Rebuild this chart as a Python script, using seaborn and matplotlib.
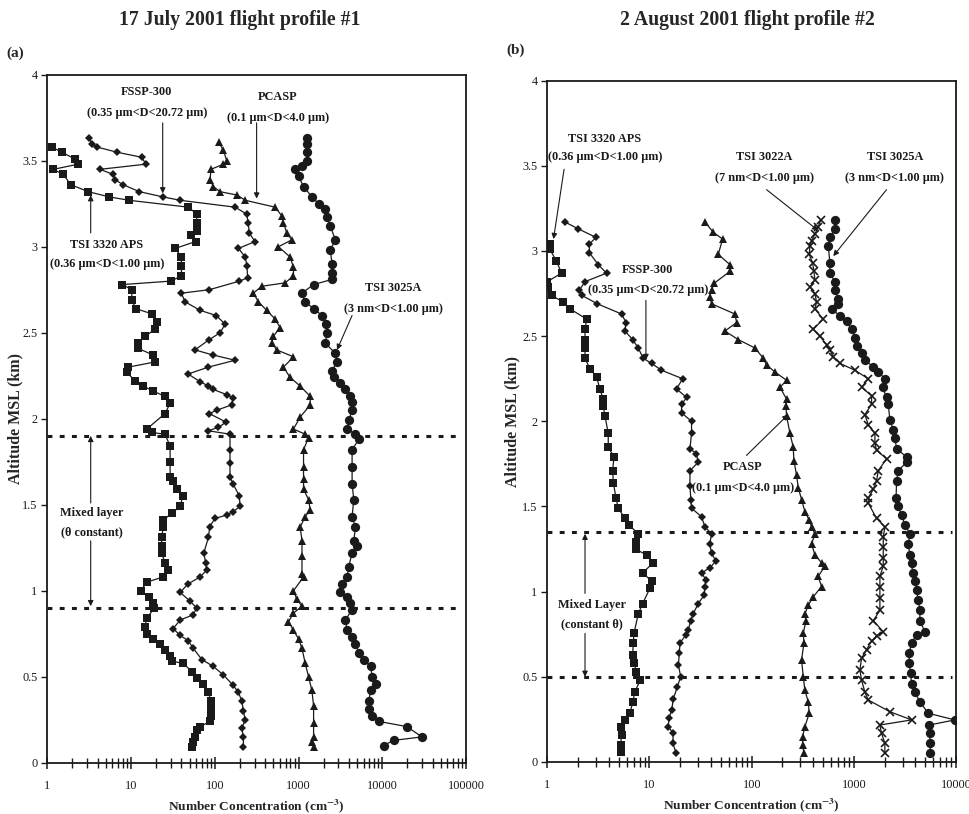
import numpy as np
import pandas as pd
import matplotlib
matplotlib.use("Agg")
import matplotlib.pyplot as plt
import seaborn as sns

# ---------------- Panel (a): 17 July 2001 ----------------
a_aps_x = [1.13, 1.48, 2.14, 2.35, 1.18, 1.55, 1.92, 3.09, 5.46, 9.46, 48.4, 61, 61, 61, 52, 59, 33.6, 40, 40, 40, 29.8,
           7.9, 10.2, 10.2, 11.4, 17.7, 20.3, 19.5, 14.7, 12.2, 12.0, 18.5, 19.3, 9.3, 8.9, 11.2, 14.0, 18.5, 25.5,
           29.3, 25.5, 15.4, 17.6, 25.5, 29.3, 29.3, 29.3, 31.9, 35.2, 41.5, 38.6, 30.5, 24.3, 24.3, 23.2, 23.2, 23.2,
           25.5, 28.0, 24.3, 15.4, 13.1, 16.4, 18.5, 19.0, 15.4, 14.7, 15.4, 18.5, 22.2, 25.5, 29.3, 30.5, 42.2, 53,
           60.7, 73, 84, 89.6, 91, 89.6, 87.6, 66.8, 60.7, 58, 54.6, 54]
a_aps_y = [3.58, 3.55, 3.51, 3.48, 3.45, 3.42, 3.36, 3.32, 3.29, 3.27, 3.23, 3.19, 3.14, 3.09, 3.07, 3.03, 2.99, 2.94, 2.89, 2.83, 2.80,
           2.78, 2.75, 2.69, 2.64, 2.61, 2.56, 2.52, 2.48, 2.44, 2.41, 2.37, 2.33, 2.30, 2.27, 2.22, 2.19, 2.16, 2.13,
           2.09, 2.03, 1.94, 1.92, 1.91, 1.84, 1.75, 1.66, 1.64, 1.59, 1.55, 1.49, 1.45, 1.41, 1.37, 1.31, 1.26, 1.22,
           1.16, 1.12, 1.08, 1.05, 1.00, 0.965, 0.93, 0.90, 0.84, 0.79, 0.75, 0.72, 0.69, 0.655, 0.62, 0.59, 0.578, 0.53,
           0.49, 0.46, 0.41, 0.36, 0.31, 0.27, 0.24, 0.21, 0.19, 0.15, 0.12, 0.093]

a_fssp_x = [3.18, 3.39, 3.89, 6.74, 13.4, 15.1, 4.26, 6.15, 6.4, 8.1, 12.6, 23.9, 38.5, 175, 240, 251, 258, 302, 192, 231,
            242, 247, 197, 86, 40, 44, 67, 104, 133, 116, 86, 58, 96, 175, 84, 48, 67, 84, 96, 139, 166,
            159, 106, 86, 137, 110, 84, 152, 152, 152, 152, 166, 197, 200, 166, 139, 100, 87, 84, 74, 78, 80, 67,
            48, 38.6, 50.6, 60.7, 55.4, 38.6, 31.9, 38.6, 48, 55.4, 70, 96, 127, 166, 191, 210, 220, 231, 210, 220, 220]
a_fssp_y = [3.63, 3.60, 3.58, 3.55, 3.52, 3.48, 3.45, 3.42, 3.39, 3.36, 3.32, 3.29, 3.27, 3.23, 3.19, 3.14, 3.08, 3.03, 2.99, 2.94,
            2.89, 2.82, 2.80, 2.75, 2.73, 2.68, 2.63, 2.60, 2.55, 2.50, 2.46, 2.40, 2.37, 2.34, 2.30, 2.26, 2.215, 2.19, 2.17, 2.14, 2.12,
            2.08, 2.05, 2.03, 1.98, 1.95, 1.93, 1.91, 1.82, 1.74, 1.66, 1.62, 1.55, 1.49, 1.46, 1.44, 1.42, 1.37, 1.31, 1.22, 1.16, 1.12, 1.08,
            1.04, 0.99, 0.94, 0.90, 0.86, 0.83, 0.78, 0.74, 0.71, 0.665, 0.60, 0.56, 0.51, 0.45, 0.41, 0.36, 0.30, 0.25, 0.20, 0.15, 0.093]

a_pcasp_x = [111, 127, 139, 127, 90, 88, 96, 116, 186, 231, 525, 630, 661, 724, 832, 576, 794, 871, 871, 692, 363, 289,
             332, 417, 525, 603, 501, 479, 550, 871, 661, 794, 1047, 1380,
             1380, 1047, 871, 1200, 1318, 1148, 1148, 1148, 1148, 1318, 1380, 1200, 1047, 1100, 1100, 1100, 1148,
             871, 955, 1100, 871, 759, 871, 1000, 1100, 1200, 1318, 1445, 1514, 1514, 1514, 1445, 1514]
a_pcasp_y = [3.61, 3.56, 3.50, 3.48, 3.45, 3.39, 3.35, 3.32, 3.30, 3.27, 3.23, 3.18, 3.14, 3.08, 3.04, 3.00, 2.94, 2.88, 2.83, 2.79, 2.77, 2.73,
             2.68, 2.63, 2.58, 2.53, 2.48, 2.44, 2.40, 2.36, 2.30, 2.24, 2.19, 2.13,
             2.08, 2.01, 1.94, 1.91, 1.89, 1.82, 1.72, 1.65, 1.59, 1.53, 1.47, 1.43, 1.37, 1.29, 1.20, 1.10, 1.08,
             1.00, 0.95, 0.91, 0.87, 0.82, 0.77, 0.72, 0.665, 0.58, 0.50, 0.42, 0.33, 0.23, 0.15, 0.12, 0.093]

a_cpc_x = [1259, 1259, 1259, 1259, 1096, 912, 1000, 1148, 1445, 1738, 2089, 2188, 2399, 2754, 2399, 2512, 2512, 2512,
           1514, 1096, 1202, 1514, 1905, 2138, 2188, 2089, 2754, 2884, 2512, 2630, 3162, 3631, 4169,
           4365, 4365, 3981, 3802, 4786, 5248, 4365, 4365, 4365, 4571, 4365, 4786, 4571, 5012, 4365, 3981, 3802,
           3311, 3162, 3802, 4169, 4365, 3631, 3802, 4365, 4786, 5248, 6026, 7244, 7586, 8318, 7244, 6918, 6918,
           7586, 9120, 19700, 29800, 13650, 10380]
a_cpc_y = [3.63, 3.60, 3.55, 3.50, 3.47, 3.45, 3.41, 3.35, 3.29, 3.25, 3.22, 3.17, 3.12, 3.04, 2.98, 2.90, 2.85, 2.81,
           2.78, 2.73, 2.68, 2.64, 2.60, 2.55, 2.50, 2.44, 2.38, 2.33, 2.28, 2.24, 2.21, 2.17, 2.13,
           2.10, 2.05, 1.99, 1.94, 1.91, 1.88, 1.82, 1.72, 1.62, 1.53, 1.43, 1.37, 1.29, 1.26, 1.22, 1.14, 1.08,
           1.04, 0.99, 0.965, 0.93, 0.89, 0.83, 0.77, 0.73, 0.69, 0.64, 0.60, 0.56, 0.50, 0.46, 0.42, 0.36, 0.31,
           0.27, 0.24, 0.21, 0.15, 0.13, 0.10]

# ---------------- Panel (b): 2 August 2001 ----------------
b_aps_x = [1.06, 1.06, 1.23, 1.38, 1.0, 1.02, 1.1, 1.43, 1.67, 2.43, 2.34, 2.34, 2.34, 2.34, 2.61, 3.04, 3.27, 3.53,
           3.53, 3.67, 3.95, 3.95, 4.49, 4.36, 4.43, 4.7, 4.95, 5.75, 6.34, 7.77, 7.31, 7.31, 9.38, 10.9, 8.57, 10.6,
           10.1, 8.57, 7.77, 7.05, 6.95, 6.84, 7.05, 7.45, 8.07, 7.2, 6.84, 6.44, 5.75, 5.22, 5.33, 5.22, 5.22]
b_aps_y = [3.04, 3.01, 2.94, 2.87, 2.82, 2.79, 2.74, 2.70, 2.66, 2.60, 2.54, 2.48, 2.43, 2.37, 2.31, 2.26, 2.19, 2.13,
           2.09, 2.03, 1.93, 1.85, 1.79, 1.71, 1.64, 1.55, 1.49, 1.43, 1.39, 1.34, 1.29, 1.25, 1.215, 1.17, 1.11, 1.06,
           1.02, 0.93, 0.87, 0.755, 0.70, 0.63, 0.58, 0.53, 0.48, 0.41, 0.35, 0.286, 0.247, 0.207, 0.16, 0.10, 0.06]

b_fssp_x = [1.49, 2.01, 2.99, 2.58, 2.58, 3.15, 3.8, 2.34, 2.06, 2.17, 3.09, 5.34, 5.89, 5.76, 6.84, 7.77, 8.69, 10.5,
            13.1, 21.1, 18.4, 23.1, 20.6, 20.6, 25.8, 25.8, 24.9, 28.8, 30.0, 24.9, 24.9, 25.4, 25.8, 32.3, 34.9, 40.5,
            39.0, 40.5, 44.7, 39.0, 32.3, 35.7, 34.9, 34.3, 30.0, 26.8, 25.3, 24.0, 22.7, 19.9, 19.6, 19.2, 20.2, 18.7,
            17.1, 16.5, 15.5, 15.3, 17.1, 16.9, 18.2]
b_fssp_y = [3.17, 3.13, 3.08, 3.04, 2.99, 2.92, 2.87, 2.82, 2.77, 2.74, 2.69, 2.63, 2.58, 2.53, 2.48, 2.43, 2.37, 2.34,
            2.30, 2.25, 2.19, 2.14, 2.10, 2.05, 2.00, 1.93, 1.84, 1.81, 1.76, 1.71, 1.62, 1.54, 1.49, 1.44, 1.38, 1.34,
            1.28, 1.225, 1.18, 1.14, 1.11, 1.07, 1.03, 0.98, 0.93, 0.87, 0.83, 0.775, 0.745, 0.70, 0.64, 0.57, 0.50, 0.44,
            0.37, 0.305, 0.256, 0.207, 0.168, 0.11, 0.055]

b_pcasp_x = [34.9, 42.1, 52, 47.1, 61.3, 61.3, 42.8, 40.5, 39, 40.5, 68.6, 71.3, 54.7, 73.9, 108, 130, 140, 169, 220, 189, 220,
             216, 220, 237, 255, 259, 275, 286, 308, 332, 366, 386, 416, 386, 416, 483, 521, 448, 483, 401, 358, 332,
             340, 320, 325, 308, 320, 332, 358, 366, 332, 315, 315, 325]
b_pcasp_y = [3.17, 3.11, 3.07, 2.98, 2.92, 2.88, 2.81, 2.77, 2.73, 2.69, 2.63, 2.58, 2.53, 2.48, 2.43, 2.37, 2.33, 2.29, 2.24, 2.20, 2.13,
             2.09, 2.03, 1.93, 1.85, 1.77, 1.685, 1.61, 1.54, 1.47, 1.42, 1.38, 1.34, 1.28, 1.215, 1.17, 1.15, 1.09, 1.03, 0.97, 0.92, 0.87,
             0.83, 0.755, 0.70, 0.60, 0.50, 0.42, 0.354, 0.286, 0.207, 0.149, 0.10, 0.05]

b_cpc22_x = [472, 448, 416, 386, 372, 366, 395, 407, 416, 372, 416, 432, 416, 501, 401, 465, 541, 583, 629, 731, 1024, 1383,
             1191, 1492, 1492, 1283, 1383, 1608, 1608, 1669, 2089, 1733, 1669, 1549, 1383, 1383, 1669, 2013, 1940, 1940,
             1940, 1940, 1799, 1799, 1799, 1799, 1549, 1940, 1669, 1492, 1333, 1191, 1146, 1191, 1283, 1383, 2254, 3673,
             1799, 1867, 2013, 2013]
b_cpc22_y = [3.18, 3.14, 3.10, 3.06, 3.03, 2.98, 2.93, 2.88, 2.83, 2.79, 2.75, 2.70, 2.66, 2.60, 2.54, 2.50, 2.45, 2.42, 2.38, 2.34, 2.30, 2.25,
             2.20, 2.15, 2.10, 2.04, 1.98, 1.93, 1.87, 1.83, 1.78, 1.71, 1.65, 1.60, 1.55, 1.52, 1.43, 1.38, 1.32, 1.26,
             1.20, 1.15, 1.09, 1.03, 0.96, 0.89, 0.83, 0.765, 0.74, 0.71, 0.66, 0.61, 0.54, 0.48, 0.41, 0.364, 0.295, 0.247,
             0.217, 0.168, 0.11, 0.05]

b_cpc25_x = [653, 653, 583, 562, 583, 583, 653, 653, 703, 703, 605, 731, 849, 950, 1024, 1064, 1191, 1283, 1549, 1733, 2013,
             1910, 2089, 2171, 2254, 2431, 2524, 2620, 3281, 3281, 2718, 2620, 2590, 2718, 2931, 3162, 3540, 3404, 3540,
             3673, 3758, 3958, 4111, 4267, 4428, 4428, 4955, 4111, 3673, 3483, 3483, 3590, 3673, 3958, 4428, 5346, 9750,
             5470, 5550, 5550, 5623]
b_cpc25_y = [3.18, 3.13, 3.08, 3.03, 2.93, 2.87, 2.82, 2.77, 2.72, 2.69, 2.66, 2.62, 2.59, 2.54, 2.49, 2.44, 2.40, 2.36, 2.32, 2.29, 2.25,
             2.20, 2.14, 2.10, 2.01, 1.95, 1.90, 1.84, 1.79, 1.76, 1.71, 1.65, 1.55, 1.50, 1.45, 1.39, 1.34, 1.28, 1.215,
             1.17, 1.11, 1.06, 1.01, 0.95, 0.89, 0.83, 0.765, 0.745, 0.70, 0.64, 0.58, 0.52, 0.46, 0.41, 0.354, 0.286, 0.247,
             0.217, 0.168, 0.11, 0.055]

titles = ["17 July 2001 flight profile #1", "2 August 2001 flight profile #2"]
panel_tags = ["(a)", "(b)"]
xlims = [(1, 100000), (1, 10000)]
mixed_a = [0.9, 1.9]
mixed_b = [0.5, 1.35]

# ---------------- Styling ----------------
sns.set_theme(style="ticks")
plt.rcParams['font.family'] = ['Liberation Serif', 'DejaVu Serif']
plt.rcParams['mathtext.fontset'] = 'stix'
plt.rcParams['axes.linewidth'] = 1.3

INK = "#1a1a1a"
fig = plt.figure(figsize=(9.69, 8.14), dpi=100)
axA = fig.add_axes([0.0488, 0.0630, 0.4321, 0.8452])
axB = fig.add_axes([0.5648, 0.0639, 0.4218, 0.8370])


def draw(ax, x, y, marker, ms, mew=0.0, mfc=INK):
    df = pd.DataFrame({"conc": x, "alt": y})
    sns.lineplot(data=df, x="conc", y="alt", sort=False, estimator=None, ax=ax,
                 color=INK, lw=0.9, marker=marker, markersize=ms,
                 markeredgewidth=mew, markerfacecolor=mfc, markeredgecolor=INK)


draw(axA, a_aps_x, a_aps_y, "s", 5.4)
draw(axA, a_fssp_x, a_fssp_y, "D", 4.3)
draw(axA, a_pcasp_x, a_pcasp_y, "^", 6.3)
draw(axA, a_cpc_x, a_cpc_y, "o", 6.7)

draw(axB, b_aps_x, b_aps_y, "s", 5.4)
draw(axB, b_fssp_x, b_fssp_y, "D", 4.3)
draw(axB, b_pcasp_x, b_pcasp_y, "^", 6.3)
draw(axB, b_cpc22_x, b_cpc22_y, "x", 5.5, mew=1.2)
draw(axB, b_cpc25_x, b_cpc25_y, "o", 6.7)

label_xfrac = [-0.058, -0.067]
for ax, xl, lx in zip([axA, axB], xlims, label_xfrac):
    ax.set_xscale("log")
    ax.set_xlim(*xl)
    ax.set_ylim(0, 4)
    ax.set_yticks(np.arange(0, 4.01, 0.5))
    ax.set_yticklabels(["0", "0.5", "1", "1.5", "2", "2.5", "3", "3.5", "4"])
    ax.xaxis.set_major_formatter(matplotlib.ticker.FuncFormatter(lambda v, p: f"{int(round(v))}"))
    ax.xaxis.set_minor_formatter(matplotlib.ticker.NullFormatter())
    ax.tick_params(axis="x", which="major", direction="inout", length=9, width=1.1, labelsize=8.8, pad=8, colors=INK)
    ax.tick_params(axis="x", which="minor", direction="inout", length=7, width=1.0, colors=INK)
    ax.tick_params(axis="y", which="major", direction="out", length=4, width=1.0, labelsize=8.8, pad=3, colors=INK)
    ax.set_xlabel("Number Concentration (cm$^{\\mathbf{-3}}$)", fontsize=9.6, fontweight="bold", labelpad=4)
    ax.set_ylabel("Altitude MSL (km)", fontsize=11.5, fontweight="bold")
    ax.yaxis.set_label_coords(lx, 0.5)
    for s in ax.spines.values():
        s.set_color(INK)
    ax.grid(False)

fig.text(240 / 969, 1 - 20 / 814, titles[0], ha="center", va="center", fontsize=14.2, fontweight="bold")
fig.text(747 / 969, 1 - 20 / 814, titles[1], ha="center", va="center", fontsize=14.2, fontweight="bold")
fig.text(15 / 969, 1 - 53 / 814, "(a)", ha="center", va="center", fontsize=11, fontweight="bold")
fig.text(516 / 969, 1 - 50 / 814, "(b)", ha="center", va="center", fontsize=11, fontweight="bold")

# mixed layer dotted lines
for yv in mixed_a:
    axA.axhline(yv, color=INK, lw=2.2, ls=(0, (1.6, 2.4)), xmin=0, xmax=0.99)
for yv in mixed_b:
    axB.axhline(yv, color=INK, lw=2.2, ls=(0, (1.6, 2.4)), xmin=0, xmax=0.99)

AFS = 8.8


def label(ax, x, y1, y2, l1, l2):
    ax.text(x, y1, l1, ha="center", va="center", fontsize=AFS, fontweight="bold", color=INK)
    ax.text(x, y2, l2, ha="center", va="center", fontsize=AFS, fontweight="bold", color=INK)


def arrow(ax, xt, yt, xh, yh):
    ax.annotate("", xy=(xh, yh), xytext=(xt, yt),
                arrowprops=dict(arrowstyle="-|>", color=INK, lw=0.8, mutation_scale=8, shrinkA=0, shrinkB=0))


# Panel (a) annotations
label(axA, 15.5, 3.90, 3.78, "FSSP-300", "(0.35 \u00b5m<D<20.72 \u00b5m)")
arrow(axA, 23.9, 3.72, 23.9, 3.31)
label(axA, 570, 3.87, 3.75, "PCASP", "(0.1 \u00b5m<D<4.0 \u00b5m)")
arrow(axA, 316, 3.72, 316, 3.28)
label(axA, 5.17, 3.01, 2.90, "TSI 3320 APS", "(0.36 \u00b5m<D<1.00 \u00b5m)")
arrow(axA, 3.3, 3.08, 3.3, 3.30)
label(axA, 13500, 2.76, 2.64, "TSI 3025A", "(3 nm<D<1.00 \u00b5m)")
arrow(axA, 4360, 2.60, 2880, 2.40)
label(axA, 3.43, 1.45, 1.34, "Mixed layer", "(\u03b8 constant)")
arrow(axA, 3.3, 1.51, 3.3, 1.90)
arrow(axA, 3.3, 1.29, 3.3, 0.91)

# Panel (b) annotations
label(axB, 3.67, 3.66, 3.55, "TSI 3320 APS", "(0.36 \u00b5m<D<1.00 \u00b5m)")
arrow(axB, 1.46, 3.48, 1.15, 3.07)
label(axB, 134, 3.55, 3.43, "TSI 3022A", "(7 nm<D<1.00 \u00b5m)")
arrow(axB, 140, 3.36, 448, 3.12)
label(axB, 2512, 3.55, 3.43, "TSI 3025A", "(3 nm<D<1.00 \u00b5m)")
arrow(axB, 2089, 3.36, 629, 2.97)
label(axB, 9.66, 2.89, 2.77, "FSSP-300", "(0.35 \u00b5m<D<20.72 \u00b5m)")
arrow(axB, 9.23, 2.71, 9.23, 2.36)
label(axB, 82, 1.73, 1.61, "PCASP", "(0.1 \u00b5m<D<4.0 \u00b5m)")
arrow(axB, 89, 1.80, 228, 2.04)
label(axB, 2.74, 0.92, 0.81, "Mixed Layer", "(constant \u03b8)")
arrow(axB, 2.34, 0.99, 2.34, 1.34)
arrow(axB, 2.34, 0.755, 2.34, 0.50)

fig.savefig("out.png", dpi=100)
